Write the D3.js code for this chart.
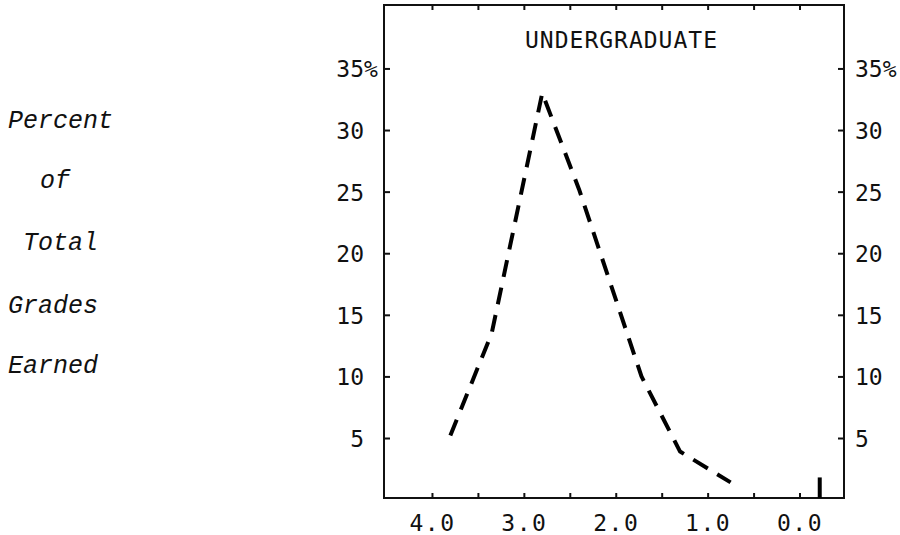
<!DOCTYPE html>
<html>
<head>
<meta charset="utf-8">
<script src="https://cdn.jsdelivr.net/npm/d3@7"></script>
<style>
  html, body { margin: 0; padding: 0; background: #fff; }
  svg { display: block; }
</style>
</head>
<body>
<svg id="chart" width="900" height="535"></svg>
<script>
// ---- data ----
const grades   = [3.80, 3.35, 2.80, 2.40, 1.72, 1.30, 0.75];
const percents = [5.2, 13.5, 33.0, 25.2, 10.0, 3.9, 1.4];
const failGrade = [-0.22];
const failPercent = [1.8];
const yTicks = [5, 10, 15, 20, 25, 30, 35];
const xTicks = [4.0, 3.5, 3.0, 2.5, 2.0, 1.5, 1.0, 0.5, 0.0];
const xTickLabels = ["4.0", "3.0", "2.0", "1.0", "0.0"];
const xLabelValues = [4, 3, 2, 1, 0];
const sideLabel = ["Percent", "of", "Total", "Grades", "Earned"];
const title = "UNDERGRADUATE";

// ---- layout ----
const svg = d3.select("#chart");
const x = d3.scaleLinear().domain([4.522, -0.484]).range([384, 844]);
const y = d3.scaleLinear().domain([0.13, 40.15]).range([498, 5]);
const numFont = "'DejaVu Sans Mono', monospace";

// frame
svg.append("rect")
  .attr("x", x.range()[0]).attr("y", y.range()[1])
  .attr("width", x.range()[1] - x.range()[0])
  .attr("height", y.range()[0] - y.range()[1])
  .attr("fill", "none").attr("stroke", "#111").attr("stroke-width", 2);

function styleAxis(g) {
  g.select(".domain").remove();
  g.selectAll(".tick line").attr("stroke", "#111").attr("stroke-width", 2);
  g.selectAll("text").attr("fill", "#111").attr("font-family", numFont).attr("font-size", 23);
}

// left axis
const left = svg.append("g").attr("transform", `translate(${x.range()[0]},0)`)
  .call(d3.axisLeft(y).tickValues(yTicks).tickSize(-6).tickPadding(20).tickFormat(d => d))
  .call(styleAxis);
left.selectAll("text").attr("dy", "0.37em");
left.selectAll(".tick").filter(d => d === 35).append("text")
  .attr("x", -20).attr("dy", "0.37em").attr("text-anchor", "start")
  .attr("fill", "#111").attr("font-family", numFont).attr("font-size", 23).text("%");

// right axis
const right = svg.append("g").attr("transform", `translate(${x.range()[1]},0)`)
  .call(d3.axisRight(y).tickValues(yTicks).tickSize(-6).tickPadding(11).tickFormat(d => d === 35 ? "35%" : d))
  .call(styleAxis);
right.selectAll("text").attr("dy", "0.37em");

// bottom axis
const bottom = svg.append("g").attr("transform", `translate(0,${y.range()[0]})`)
  .call(d3.axisBottom(x).tickValues(xTicks).tickSize(-5)
    .tickFormat(d => { const i = xLabelValues.indexOf(d); return i >= 0 ? xTickLabels[i] : ""; }))
  .call(styleAxis);
bottom.selectAll("text").attr("y", 33).attr("dy", null).attr("letter-spacing", 1.5);

// top axis
svg.append("g").attr("transform", `translate(0,${y.range()[1]})`)
  .call(d3.axisTop(x).tickValues(xTicks).tickSize(-5).tickFormat(""))
  .call(styleAxis);

// title
svg.append("text").attr("x", 525).attr("y", 48)
  .attr("font-family", numFont).attr("font-size", 23).attr("letter-spacing", 1)
  .attr("fill", "#111").text(title);

// dashed distribution line
const line = d3.line().x(d => x(d[0])).y(d => y(d[1]));
svg.append("path")
  .datum(grades.map((g, i) => [g, percents[i]]))
  .attr("d", line)
  .attr("fill", "none").attr("stroke", "#000").attr("stroke-width", 4)
  .attr("stroke-dasharray", "17,11").attr("stroke-linejoin", "round");

// fail bar
svg.selectAll("line.fail").data(failGrade).enter().append("line")
  .attr("class", "fail")
  .attr("x1", d => x(d)).attr("x2", d => x(d))
  .attr("y1", y(0.13)).attr("y2", (d, i) => y(failPercent[i]))
  .attr("stroke", "#000").attr("stroke-width", 4);

// side label (italic typewriter)
const sidePos = [[8, 128], [40, 188], [23, 250], [8, 313], [8, 373]];
svg.selectAll("text.side").data(sideLabel).enter().append("text")
  .attr("class", "side")
  .attr("x", (d, i) => sidePos[i][0]).attr("y", (d, i) => sidePos[i][1])
  .attr("font-family", "'Liberation Mono', 'Courier New', monospace")
  .attr("font-style", "italic").attr("font-size", 25).attr("fill", "#111")
  .text(d => d);
</script>
</body>
</html>
